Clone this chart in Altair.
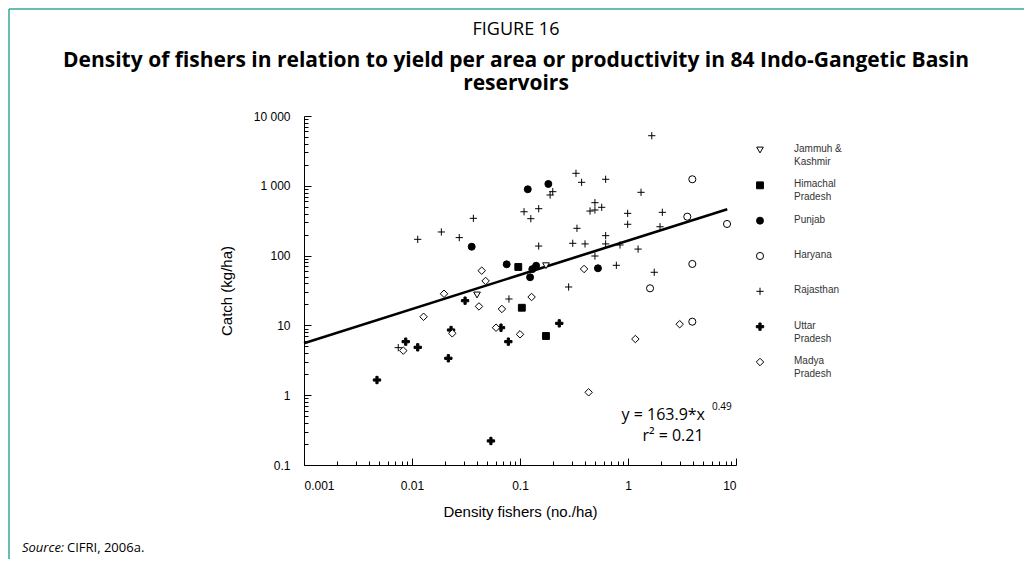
import altair as alt
import pandas as pd

# ---------------- data ----------------
STATES = ["Jammuh & Kashmir", "Himachal Pradesh", "Punjab", "Haryana",
          "Rajasthan", "Uttar Pradesh", "Madya Pradesh"]
LEGEND_LABELS = ["Jammuh &\nKashmir", "Himachal\nPradesh", "Punjab", "Haryana",
                 "Rajasthan", "Uttar\nPradesh", "Madya\nPradesh"]

JK_X = [0.174, 0.040]
JK_Y = [71.6, 27.3]
HP_X = [0.0964, 0.104, 0.174]
HP_Y = [68.7, 17.9, 7.05]
PB_X = [0.118, 0.183, 0.0357, 0.0753, 0.141, 0.130, 0.124, 0.527]
PB_Y = [891, 1062, 134, 75, 71.6, 64, 48.9, 65.8]
HR_X = [3.94, 3.54, 8.26, 3.94, 1.60, 3.94]
HR_Y = [1240, 361, 284, 75.9, 34, 11.3]
RJ_X = [1.66, 0.330, 0.372, 0.621, 1.32, 0.19, 0.201, 0.109, 0.126, 0.149,
        0.037, 0.0187, 0.0274, 0.0113, 0.149, 0.337, 0.308, 0.400, 0.494, 0.445,
        0.494, 0.571, 0.993, 0.993, 2.08, 1.98, 0.621, 0.621, 0.843, 1.24,
        0.494, 0.780, 1.75, 0.282, 0.079, 0.00746]
RJ_Y = [5220, 1510, 1122, 1240, 807, 738, 824, 425, 338, 470,
        342, 218, 181, 171, 137, 246, 150, 147, 573, 435,
        450, 492, 403, 281, 417, 259, 193, 147, 142, 124,
        98.6, 72.6, 57.7, 35.5, 23.9, 4.8]
UP_X = [0.031, 0.231, 0.0667, 0.078, 0.023, 0.00875, 0.0113, 0.0217, 0.00474, 0.0538]
UP_Y = [22.6, 10.7, 9.27, 5.85, 8.59, 5.85, 4.85, 3.38, 1.65, 0.221]
MP_X = [0.0442, 0.048, 0.0198, 0.0417, 0.068, 0.128, 0.0128, 0.060, 0.1, 0.0236,
        0.0083, 0.392, 3.01, 1.17, 0.432]
MP_Y = [60.8, 43.3, 28.4, 18.7, 17.2, 25.5, 13.3, 9.27, 7.45, 7.7,
        4.35, 64.3, 10.4, 6.38, 1.10]

FIT_A = 163.9
FIT_B = 0.49
FIT_X = [0.001, 8.3]

X_MAJOR = [0.001, 0.01, 0.1, 1, 10]
Y_MAJOR = [0.1, 1, 10, 100, 1000, 10000]
X_MINOR = [m * 10.0 ** k for k in range(-3, 1) for m in range(2, 10)]
Y_MINOR = [m * 10.0 ** k for k in range(-1, 4) for m in range(2, 10)]

FIG_LABEL = "FIGURE 16"
TITLE_1 = "Density of fishers in relation to yield per area or productivity in 84 Indo-Gangetic Basin"
TITLE_2 = "reservoirs"

# ---------------- tables ----------------
rows = []
for name, xs_, ys_ in zip(STATES, [JK_X, HP_X, PB_X, HR_X, RJ_X, UP_X, MP_X],
                          [JK_Y, HP_Y, PB_Y, HR_Y, RJ_Y, UP_Y, MP_Y]):
    for a, b in zip(xs_, ys_):
        rows.append({"state": name, "x": a, "y": b})
pts_df = pd.DataFrame(rows)
fit_df = pd.DataFrame({"x": FIT_X, "y": [FIT_A * v ** FIT_B for v in FIT_X]})
leg_df = pd.DataFrame({"state": STATES, "label": LEGEND_LABELS})
one = pd.DataFrame({"a": [0]})

# ---------------- styles ----------------
FONT = "Liberation Sans"
TFONT = "Open Sans"
TEAL = "#35a79b"
W, H = 432, 349

THIN_PLUS = "M-1,0H1M0,-1V1"
THICK_PLUS = "M-1,-0.3H-0.3V-1H0.3V-0.3H1V0.3H0.3V1H-0.3V0.3H-1Z"

shape_sc = alt.Scale(domain=STATES, range=["triangle-down", "square", "circle", "circle",
                                           THIN_PLUS, THICK_PLUS, "diamond"])
fill_sc = alt.Scale(domain=STATES, range=["white", "black", "black", "white",
                                          "transparent", "black", "white"])
stroke_sc = alt.Scale(domain=STATES, range=["black"] * 7)
size_sc = alt.Scale(domain=STATES, range=[45, 56, 64, 64, 72, 64, 45])

def sym_enc():
    return dict(
        shape=alt.Shape("state:N", scale=shape_sc, legend=None),
        fill=alt.Fill("state:N", scale=fill_sc, legend=None),
        stroke=alt.Stroke("state:N", scale=stroke_sc, legend=None),
        size=alt.Size("state:N", scale=size_sc, legend=None),
    )

xs = alt.Scale(type="log", domain=[0.001, 10], nice=False)
ys = alt.Scale(type="log", domain=[0.1, 10000], nice=False)

ax_x_major = alt.Axis(orient="bottom", values=X_MAJOR, format="~g", tickSize=7, offset=-7,
                      domain=False, labelPadding=15, grid=False,
                      title="Density fishers (no./ha)", titlePadding=13, titleFontSize=15,
                      titleFont=FONT, titleFontWeight="normal", titleColor="black")
ax_y_major = alt.Axis(orient="left", values=Y_MAJOR, tickSize=7, offset=-7, domain=False,
                      labelPadding=14, grid=False,
                      labelExpr="datum.value >= 1000 ? replace(format(datum.value, ',d'), ',', ' ') : format(datum.value, '~g')",
                      title="Catch (kg/ha)", titlePadding=19, titleFontSize=15,
                      titleFont=FONT, titleFontWeight="normal", titleColor="black")
ax_x_minor = alt.Axis(orient="bottom", values=X_MINOR, tickSize=4, offset=-4, domain=False,
                      labels=False, grid=False, title="")
ax_y_minor = alt.Axis(orient="left", values=Y_MINOR, tickSize=4, offset=-4, domain=False,
                      labels=False, grid=False, title="")
ax_x_dom = alt.Axis(orient="bottom", domain=True, ticks=False, labels=False, grid=False, title="")
ax_y_dom = alt.Axis(orient="left", domain=True, ticks=False, labels=False, grid=False, title="")

# ---------------- layers ----------------
frame_top = alt.Chart(one).mark_rule(color=TEAL, strokeWidth=1.5).encode(
    x=alt.value(-295), x2=alt.value(720), y=alt.value(-107))
frame_left = alt.Chart(one).mark_rule(color=TEAL, strokeWidth=1.5).encode(
    x=alt.value(-295), y=alt.value(-107), y2=alt.value(460))

title0 = alt.Chart(one).mark_text(align="center", baseline="alphabetic", fontSize=18, font=TFONT,
                                  color="black").encode(
    x=alt.value(212), y=alt.value(-81), text=alt.value(FIG_LABEL))
title1 = alt.Chart(one).mark_text(align="center", baseline="alphabetic", fontSize=21, font=TFONT,
                                  fontWeight="bold", color="black").encode(
    x=alt.value(212), y=alt.value(-49), text=alt.value(TITLE_1))
title2 = alt.Chart(one).mark_text(align="center", baseline="alphabetic", fontSize=21, font=TFONT,
                                  fontWeight="bold", color="black").encode(
    x=alt.value(212), y=alt.value(-26), text=alt.value(TITLE_2))

minor = alt.Chart(fit_df).mark_line(opacity=0).encode(
    x=alt.X("x:Q", scale=xs, axis=ax_x_minor), y=alt.Y("y:Q", scale=ys, axis=ax_y_minor))
fit = alt.Chart(fit_df).mark_line(color="black", strokeWidth=2.6).encode(
    x=alt.X("x:Q", scale=xs, axis=ax_x_dom), y=alt.Y("y:Q", scale=ys, axis=ax_y_dom))
points = alt.Chart(pts_df).mark_point(opacity=1, strokeWidth=1).encode(
    x=alt.X("x:Q", scale=xs, axis=ax_x_major), y=alt.Y("y:Q", scale=ys, axis=ax_y_major),
    **sym_enc())

leg_y = alt.Y("state:N", scale=alt.Scale(type="point", domain=STATES, range=[34, 246], padding=0),
              axis=None)
leg_sym = alt.Chart(leg_df).mark_point(opacity=1, strokeWidth=1).encode(
    x=alt.value(456), y=leg_y, **sym_enc())
leg_txt = alt.Chart(leg_df).mark_text(align="left", baseline="top", dy=-6, fontSize=10,
                                      lineHeight=13, lineBreak="\n", font=FONT,
                                      color="#333333").encode(
    x=alt.value(490), y=leg_y, text="label:N")

eq1 = alt.Chart(one).mark_text(align="right", baseline="middle", fontSize=16, font=TFONT,
                               color="black").encode(
    x=alt.value(401), y=alt.value(299), text=alt.value("y = 163.9*x"))
eq_sup = alt.Chart(one).mark_text(align="left", baseline="middle", fontSize=10, font=TFONT,
                                  color="black").encode(
    x=alt.value(408), y=alt.value(291), text=alt.value("0.49"))
eq2 = alt.Chart(one).mark_text(align="center", baseline="middle", fontSize=16, font=TFONT,
                               color="black").encode(
    x=alt.value(369), y=alt.value(320), text=alt.value("r\u00b2 = 0.21"))

src1 = alt.Chart(one).mark_text(align="left", baseline="middle", fontSize=13, font=TFONT,
                                fontStyle="italic", color="black").encode(
    x=alt.value(-282), y=alt.value(432), text=alt.value("Source:"))
src2 = alt.Chart(one).mark_text(align="left", baseline="middle", fontSize=13, font=TFONT,
                                color="black").encode(
    x=alt.value(-237), y=alt.value(432), text=alt.value("CIFRI, 2006a."))

chart = alt.layer(
    frame_top, frame_left, title0, title1, title2, minor, fit, points, leg_sym, leg_txt,
    eq1, eq_sup, eq2, src1, src2
).resolve_scale(
    y="independent"
).resolve_axis(
    x="independent", y="independent"
).properties(
    width=W, height=H,
    autosize=alt.AutoSizeParams(type="none"),
    padding={"left": 296, "top": 108, "right": 288, "bottom": 94},
).configure_view(stroke=None).configure_axis(
    labelFont=FONT, labelFontSize=12, labelColor="black",
    tickColor="black", domainColor="black", tickWidth=1, domainWidth=1,
)

chart.save("out.html", embed_options={"renderer": "svg", "actions": False})
